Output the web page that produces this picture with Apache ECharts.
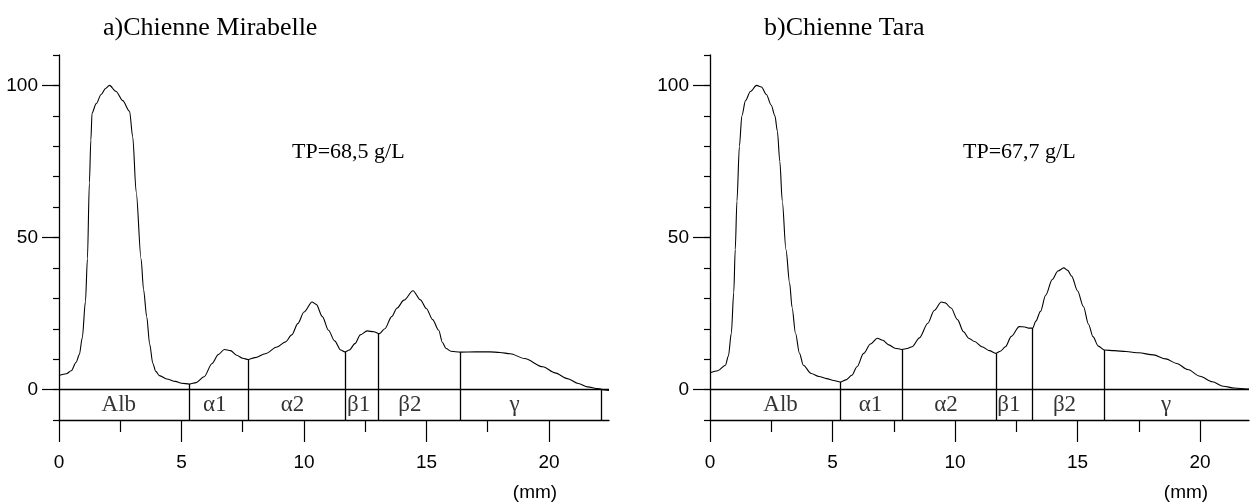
<!DOCTYPE html>
<html>
<head>
<meta charset="utf-8">
<script src="https://cdn.jsdelivr.net/npm/echarts@6/dist/echarts.min.js"></script>
<style>
  html, body { margin: 0; padding: 0; background: #fff; }
  #main { width: 1250px; height: 503px; }
</style>
</head>
<body>
<div id="main"></div>
<script>
// 电泳曲线 a) Mirabelle
const mirabelleMm = [0, 0.3, 0.5, 0.7, 0.83, 0.95, 1.08, 1.16, 1.24, 1.3, 1.35, 1.52, 1.72, 1.9, 2.06, 2.33, 2.6, 2.88, 3.01, 3.15, 3.35, 3.45, 3.58, 3.7, 3.83, 3.95, 4.1, 4.4, 4.75, 5.0, 5.33, 5.6, 5.92, 6.25, 6.5, 6.75, 7.0, 7.25, 7.5, 7.72, 8.0, 8.42, 8.9, 9.25, 9.5, 9.75, 10.0, 10.33, 10.5, 10.75, 11.0, 11.25, 11.5, 11.67, 11.85, 12.08, 12.3, 12.58, 12.85, 13.08, 13.3, 13.58, 13.8, 14.08, 14.45, 14.75, 15.0, 15.25, 15.5, 15.65, 15.8, 16.0, 16.38, 17.0, 17.58, 18.0, 18.42, 19.0, 19.75, 20.25, 20.75, 21.2, 21.58, 22.0, 22.2, 22.45];
const mirabelleVal = [4.6, 5.2, 6.2, 9, 11.5, 17, 29, 43, 68, 82, 91, 94, 97, 99, 100, 98, 95, 91.5, 83, 65, 43, 33, 24, 15, 8.6, 6, 4.6, 3.5, 2.7, 2.1, 1.8, 2.3, 4.2, 8.6, 11.5, 13.2, 12.8, 11.3, 10.3, 9.9, 10.5, 11.8, 14, 15.7, 18, 21.7, 25.5, 28.8, 28, 24, 19.5, 16, 13, 12.4, 13, 15.1, 18, 19.3, 19, 18.4, 20, 24, 26.8, 29.4, 32.5, 29.5, 26.6, 23, 19.5, 15.5, 13.5, 12.6, 12.3, 12.4, 12.4, 12.2, 11.8, 10.2, 7.5, 5.5, 3.6, 2, 0.9, 0.3, 0, -0.3];

// 电泳曲线 b) Tara
const taraMm = [0, 0.32, 0.63, 0.75, 0.87, 0.97, 1.03, 1.1, 1.2, 1.3, 1.45, 1.65, 1.9, 2.1, 2.3, 2.5, 2.65, 2.75, 2.85, 2.95, 3.1, 3.25, 3.35, 3.49, 3.65, 3.81, 4.13, 4.45, 4.76, 5.05, 5.32, 5.55, 5.79, 6.0, 6.27, 6.55, 6.83, 7.05, 7.3, 7.55, 7.83, 8.05, 8.25, 8.55, 8.89, 9.15, 9.44, 9.6, 9.84, 10.1, 10.35, 10.56, 10.8, 11.1, 11.4, 11.67, 11.85, 12.06, 12.3, 12.62, 12.85, 13.0, 13.17, 13.3, 13.49, 13.7, 13.97, 14.2, 14.44, 14.6, 14.76, 15.0, 15.24, 15.45, 15.63, 15.85, 16.1, 16.5, 16.98, 17.5, 18.1, 18.6, 19.05, 19.5, 20.0, 20.5, 20.95, 21.4, 21.9, 22.0];
const taraVal = [5.5, 6.2, 8, 11, 18.5, 32, 46, 62, 80, 90, 95, 98, 100, 99.5, 97, 93.5, 90, 85, 75, 62, 46, 35, 27, 18.5, 12, 8, 5.3, 4.3, 3.6, 3.0, 2.5, 3.2, 4.7, 7.5, 11.9, 15, 16.9, 16.2, 14.7, 13.6, 13.2, 13.5, 14.1, 17, 21.8, 26, 28.8, 28.5, 26.8, 23, 19, 16.9, 15.8, 14.1, 12.8, 11.9, 12.6, 14.1, 17.5, 20.7, 20.6, 20.2, 20.2, 22.5, 25.7, 31, 36.2, 39, 40, 39.2, 37.3, 32.5, 27.3, 21.5, 17.4, 14.3, 13, 12.8, 12.5, 12.1, 11.4, 10.1, 8.6, 6.6, 4.4, 2.6, 1.1, 0.5, 0.2, 0.2];

// 分区
const bandNames = ["Alb", "α1", "α2", "β1", "β2", "γ"];
const mirabelleBounds = [5.3, 7.72, 11.67, 13.05, 16.38, 22.15];
const taraBounds = [5.32, 7.83, 11.67, 13.17, 16.1];
const mirabelleLabelX = [2.44, 6.36, 9.53, 12.23, 14.32, 18.6];
const taraLabelX = [2.88, 6.55, 9.63, 12.2, 14.47, 18.62];

const xTicks = [0, 5, 10, 15, 20];
const xMinorTicks = [2.5, 7.5, 12.5, 17.5];
const yTicks = [0, 50, 100];

const SERIF = '"Liberation Serif", "Times New Roman", serif';
const SANS = '"Liberation Sans Narrow", "Arial Narrow", "Liberation Sans", Arial, sans-serif';

function pairs(xs, ys) {
  let out = [];
  for (let i = 0; i < xs.length; i++) out.push([xs[i], ys[i]]);
  return out;
}

// 曲线在分界处的高度（线性插值）
function heightAt(xs, ys, x) {
  for (let i = 1; i < xs.length; i++) {
    if (x <= xs[i]) {
      let t = (x - xs[i - 1]) / (xs[i] - xs[i - 1]);
      return ys[i - 1] + t * (ys[i] - ys[i - 1]);
    }
  }
  return ys[ys.length - 1];
}

function makeX(gridIndex, max) {
  return [
    {
      type: "value", gridIndex: gridIndex, position: "bottom", min: 0, max: max,
      axisLine: { onZero: false, lineStyle: { color: "#000", width: 1.3 } },
      axisTick: { customValues: xTicks, length: 22, lineStyle: { color: "#000", width: 1.2 } },
      axisLabel: { customValues: xTicks, margin: 33, color: "#000", fontSize: 19, fontFamily: SANS },
      splitLine: { show: false },
    },
    {
      type: "value", gridIndex: gridIndex, position: "bottom", min: 0, max: max,
      axisLine: { show: false, onZero: false },
      axisTick: { customValues: xMinorTicks, length: 12, lineStyle: { color: "#000", width: 1.2 } },
      axisLabel: { show: false },
      splitLine: { show: false },
    },
  ];
}

function makeY(gridIndex) {
  return [
    {
      type: "value", gridIndex: gridIndex, position: "left", min: -10, max: 110, interval: 10,
      axisLine: { show: true, lineStyle: { color: "#000", width: 1.3 } },
      axisTick: { length: 6, lineStyle: { color: "#000", width: 1.2 } },
      axisLabel: {
        margin: 21, color: "#000", fontSize: 19, fontFamily: SANS,
        formatter: function (v) { return yTicks.indexOf(v) != -1 ? String(v) : ""; },
      },
      splitLine: { show: false },
    },
    {
      type: "value", gridIndex: gridIndex, position: "left", min: -10, max: 110,
      axisLine: { show: false },
      axisTick: { customValues: yTicks, length: 17, lineStyle: { color: "#000", width: 1.2 } },
      axisLabel: { show: false },
      splitLine: { show: false },
    },
  ];
}

function makeSeries(idx, xs, ys, bounds, labelX) {
  let marks = [{ yAxis: 0 }];
  for (let i = 0; i < bounds.length; i++) {
    let h = heightAt(xs, ys, bounds[i]);
    marks.push([{ coord: [bounds[i], h] }, { coord: [bounds[i], -10] }]);
  }
  let labels = [];
  for (let i = 0; i < labelX.length; i++) {
    labels.push({ name: bandNames[i], value: [labelX[i], -5] });
  }
  return [
    {
      type: "line", xAxisIndex: idx * 2, yAxisIndex: idx * 2,
      data: pairs(xs, ys),
      showSymbol: false, smooth: 0.3, smoothMonotone: "x",
      lineStyle: { color: "#000", width: 1.1 },
      markLine: {
        silent: true, symbol: ["none", "none"], label: { show: false },
        lineStyle: { color: "#000", width: 1.3, type: "solid" },
        data: marks,
      },
    },
    {
      type: "scatter", xAxisIndex: idx * 2, yAxisIndex: idx * 2,
      symbolSize: 0, data: labels,
      label: {
        show: true, position: "inside", formatter: "{b}",
        color: "#000", fontSize: 23, fontFamily: SERIF,
      },
    },
  ];
}

let chart = echarts.init(document.getElementById("main"));
let option = {
  backgroundColor: "#fff",
  animation: false,
  grid: [
    { left: 59, top: 55, width: 550, height: 365 },
    { left: 710, top: 55, width: 539, height: 365 },
  ],
  xAxis: makeX(0, 22.45).concat(makeX(1, 22)),
  yAxis: makeY(0).concat(makeY(1)),
  series: makeSeries(0, mirabelleMm, mirabelleVal, mirabelleBounds, mirabelleLabelX)
    .concat(makeSeries(1, taraMm, taraVal, taraBounds, taraLabelX)),
  graphic: [
    { type: "text", x: 103, y: 28, style: { text: "a)Chienne Mirabelle", font: "26px " + SERIF, fill: "#000", textVerticalAlign: "middle" } },
    { type: "text", x: 764, y: 28, style: { text: "b)Chienne Tara", font: "26px " + SERIF, fill: "#000", textVerticalAlign: "middle" } },
    { type: "text", x: 292, y: 152, style: { text: "TP=68,5 g/L", font: "22px " + SERIF, fill: "#000", textVerticalAlign: "middle" } },
    { type: "text", x: 963, y: 152, style: { text: "TP=67,7 g/L", font: "22px " + SERIF, fill: "#000", textVerticalAlign: "middle" } },
    { type: "text", x: 535, y: 493, style: { text: "(mm)", font: "19px " + SANS, fill: "#000", textAlign: "center", textVerticalAlign: "middle" } },
    { type: "text", x: 1186, y: 493, style: { text: "(mm)", font: "19px " + SANS, fill: "#000", textAlign: "center", textVerticalAlign: "middle" } },
  ],
};
chart.setOption(option);
</script>
</body>
</html>
